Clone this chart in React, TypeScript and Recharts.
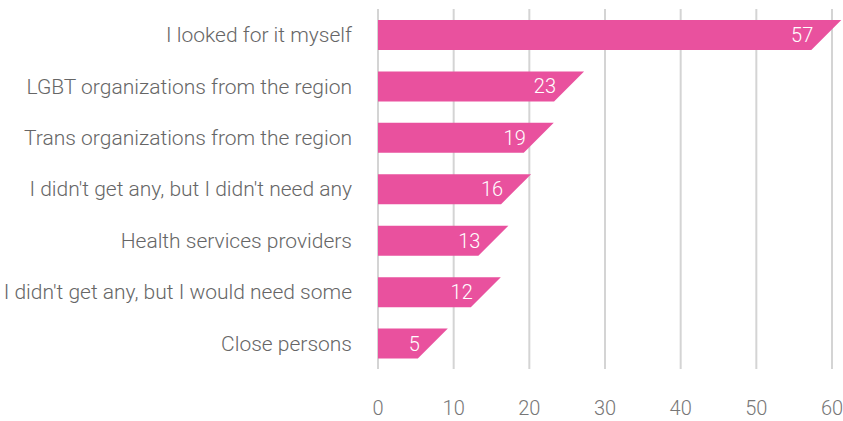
import React from 'react';
import { BarChart, Bar, XAxis, YAxis, CartesianGrid, LabelList } from 'recharts';

const categories = [
  'I looked for it myself',
  'LGBT organizations from the region',
  'Trans organizations from the region',
  "I didn't get any, but I didn't need any",
  'Health services providers',
  "I didn't get any, but I would need some",
  'Close persons',
];
const values = [57, 23, 19, 16, 13, 12, 5];
const xTicks = [0, 10, 20, 30, 40, 50, 60];

const data = categories.map((name, i) => ({ name, value: values[i] }));

const PINK = '#E9519E';
const FONT = 'Roboto, "DejaVu Sans", sans-serif';

// bar with the right end cut at 45 degrees: bottom edge ends at the value
const SlantBar = (props: any) => {
  const { x, y, width, height } = props;
  const d = `M${x},${y} L${x + width + height + 2},${y} L${x + width + 2},${y + height} L${x},${y + height} Z`;
  return <path d={d} fill={PINK} />;
};

const ValueLabel = (props: any) => {
  const { x, y, width, height, value } = props;
  return (
    <text
      x={x + width + 4}
      y={y + height / 2}
      textAnchor="end"
      dominantBaseline="central"
      fill="#fff"
      fontSize={20}
      fontWeight={300}
      fontFamily={FONT}
    >
      {value}
    </text>
  );
};

export default function App() {
  return (
    <div style={{ position: 'absolute', left: 0, top: 0, background: '#fff' }}>
      <BarChart
        width={843}
        height={421}
        data={data}
        layout="vertical"
        margin={{ top: 9, right: 11, bottom: 0, left: 0 }}
      >
        <CartesianGrid horizontal={false} stroke="#d4d4d4" strokeWidth={2} />
        <XAxis
          type="number"
          domain={[0, 60]}
          ticks={xTicks}
          axisLine={false}
          tickLine={false}
          tickSize={0}
          tickMargin={32}
          height={52}
          interval={0}
          tick={{ fill: '#777', fontSize: 20, fontWeight: 300, fontFamily: FONT }}
        />
        <YAxis
          type="category"
          dataKey="name"
          width={378}
          axisLine={false}
          tickLine={false}
          tickSize={0}
          tickMargin={26}
          interval={0}
          tick={{ fill: '#666', fontSize: 21, fontWeight: 300, fontFamily: FONT }}
        />
        <Bar dataKey="value" barSize={30} shape={<SlantBar />} isAnimationActive={false}>
          <LabelList dataKey="value" content={<ValueLabel />} />
        </Bar>
      </BarChart>
    </div>
  );
}
